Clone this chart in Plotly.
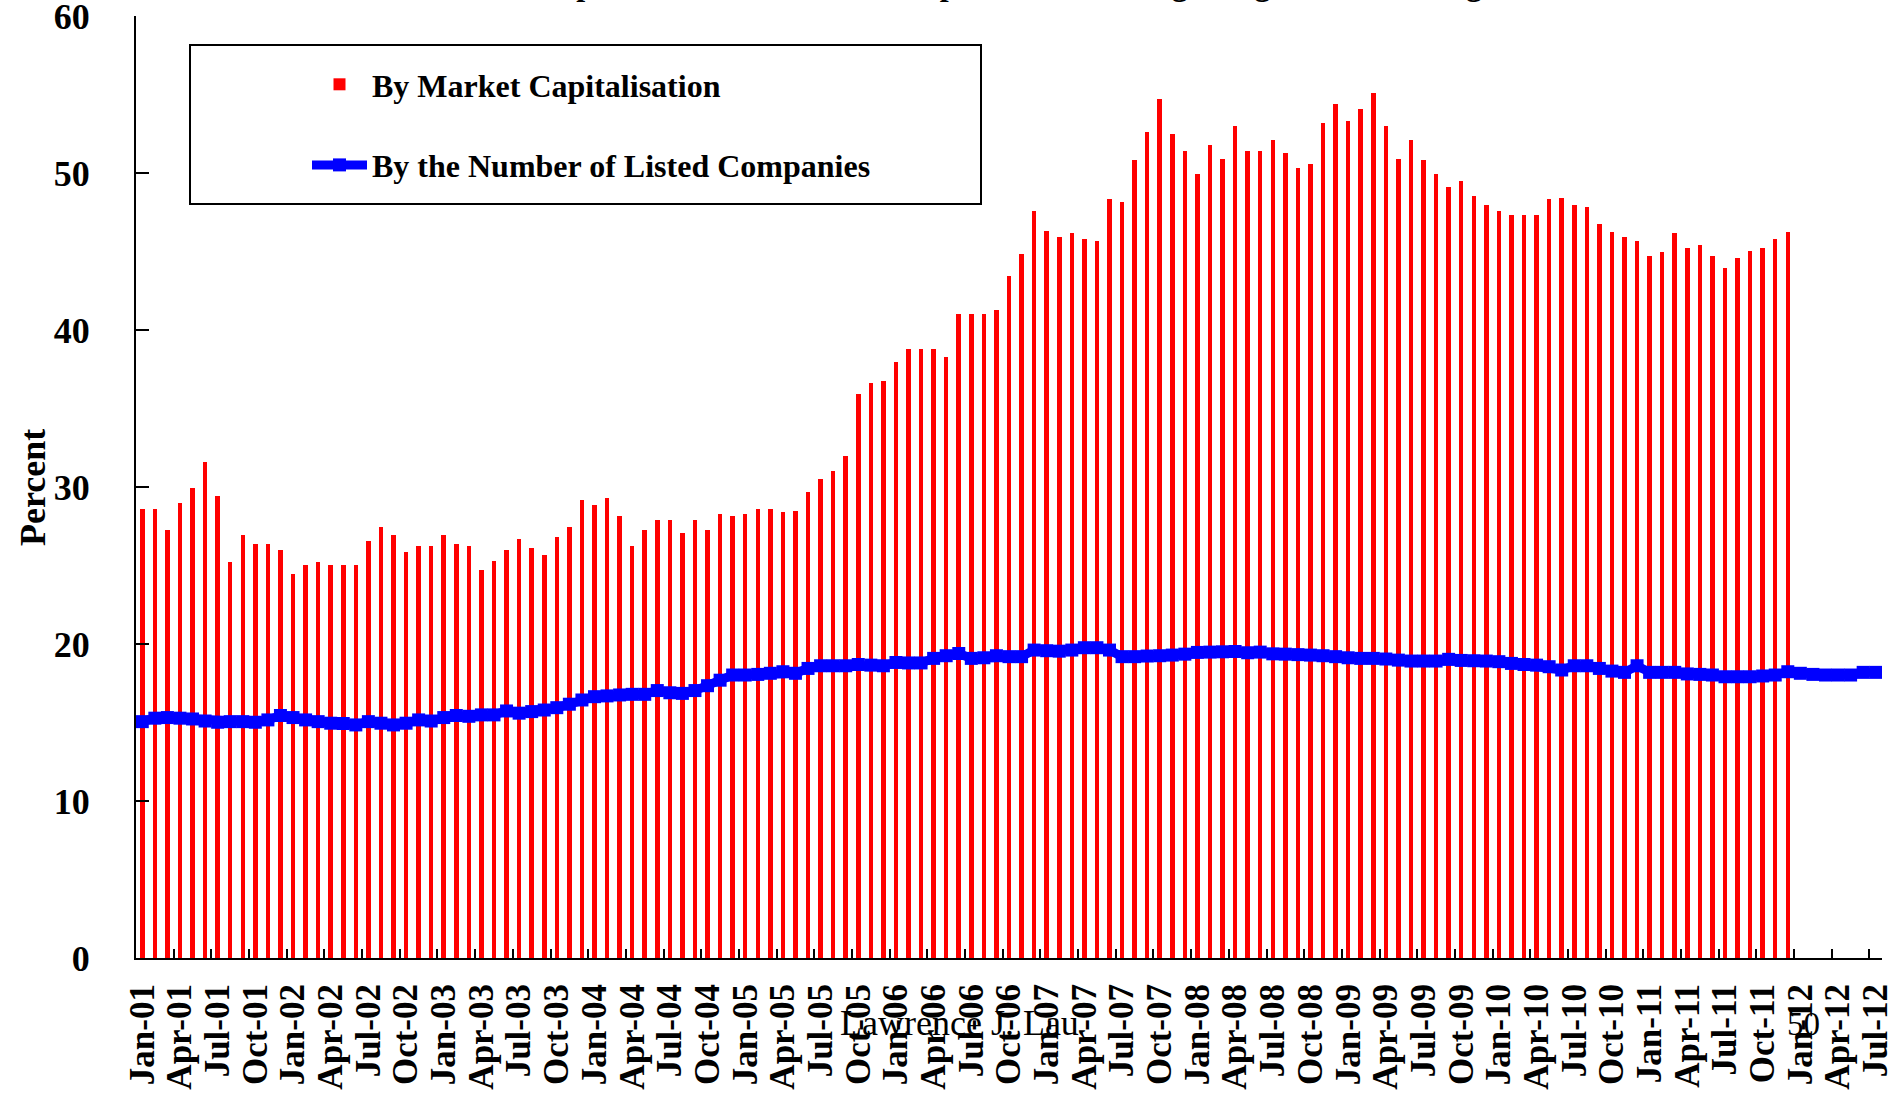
import plotly.graph_objects as go

# ---------------- data ----------------
months = ["Jan", "Feb", "Mar", "Apr", "May", "Jun", "Jul", "Aug", "Sep", "Oct", "Nov", "Dec"]
years = ["01", "02", "03", "04", "05", "06", "07", "08", "09", "10", "11", "12"]
categories = [f"{m}-{y}" for y in years for m in months][:139]  # Jan-01 .. Jul-12

market_cap_share = [
    28.62, 28.62, 27.30, 29.00, 29.94, 31.60, 29.45, 25.20, 26.97, 26.40, 26.40, 26.00,
    24.47, 25.06, 25.20, 25.06, 25.06, 25.06, 26.60, 27.44, 26.97, 25.90, 26.25, 26.25,
    26.97, 26.38, 26.25, 24.70, 25.30, 26.00, 26.70, 26.10, 25.66, 26.84, 27.44, 29.20,
    28.86, 29.34, 28.16, 26.25, 27.30, 27.90, 27.90, 27.08, 27.90, 27.30, 28.26, 28.16,
    28.26, 28.62, 28.62, 28.40, 28.50, 29.70, 30.53, 31.00, 31.97, 35.95, 36.65, 36.77,
    37.96, 38.79, 38.79, 38.79, 38.30, 41.06, 41.06, 41.06, 41.30, 43.44, 44.88, 47.62,
    46.30, 45.95, 46.20, 45.84, 45.70, 48.33, 48.20, 50.83, 52.62, 54.76, 52.50, 51.42,
    49.98, 51.78, 50.93, 52.98, 51.42, 51.42, 52.15, 51.30, 50.34, 50.60, 53.23, 54.42,
    53.36, 54.08, 55.14, 52.98, 50.93, 52.15, 50.83, 49.98, 49.15, 49.51, 48.56, 47.96,
    47.60, 47.36, 47.36, 47.36, 48.33, 48.43, 47.96, 47.83, 46.77, 46.28, 45.92, 45.69,
    44.73, 44.96, 46.17, 45.22, 45.45, 44.73, 43.99, 44.60, 45.07, 45.22, 45.84, 46.28,
]

listed_companies_share = [
    15.06, 15.28, 15.32, 15.28, 15.23, 15.10, 15.02, 15.06, 15.06, 15.02, 15.17, 15.45,
    15.32, 15.17, 15.06, 14.96, 14.94, 14.85, 15.06, 14.96, 14.85, 14.96, 15.17, 15.10,
    15.32, 15.45, 15.40, 15.49, 15.49, 15.74, 15.60, 15.70, 15.80, 15.95, 16.17, 16.44,
    16.65, 16.70, 16.76, 16.80, 16.80, 17.04, 16.90, 16.86, 17.04, 17.35, 17.70, 18.03,
    18.03, 18.07, 18.14, 18.24, 18.14, 18.45, 18.62, 18.62, 18.62, 18.70, 18.66, 18.62,
    18.83, 18.80, 18.80, 19.09, 19.26, 19.40, 19.09, 19.13, 19.26, 19.20, 19.20, 19.62,
    19.58, 19.55, 19.62, 19.77, 19.77, 19.62, 19.20, 19.20, 19.24, 19.26, 19.30, 19.36,
    19.47, 19.49, 19.51, 19.53, 19.45, 19.49, 19.38, 19.36, 19.33, 19.30, 19.26, 19.20,
    19.13, 19.09, 19.09, 19.05, 18.98, 18.92, 18.92, 18.92, 19.03, 18.96, 18.94, 18.92,
    18.88, 18.77, 18.70, 18.66, 18.56, 18.35, 18.62, 18.62, 18.45, 18.28, 18.20, 18.62,
    18.20, 18.20, 18.20, 18.10, 18.07, 18.03, 17.92, 17.92, 17.92, 17.97, 18.03, 18.24,
    18.14, 18.07, 18.03, 18.03, 18.03, 18.20, 18.20,
]

y_ticks = [0, 10, 20, 30, 40, 50, 60]

title_text = "Proportion of Mainland Enterprises in the Hong Kong Stock Exchange"
bar_name = "By Market Capitalisation"
line_name = "By the Number of Listed Companies"

# ---------------- geometry (page pixels) ----------------
PAGE_W, PAGE_H = 1897, 1097
W, H = PAGE_W, PAGE_H
PLOT_L, PLOT_R, PLOT_T, PLOT_B = 136, 1882, 16, 958   # plot area in page pixels
ML, MT = PLOT_L, PLOT_T
MR = PAGE_W - PLOT_R
MB = PAGE_H - PLOT_B
plot_h = PLOT_B - PLOT_T
plot_w = PLOT_R - PLOT_L

SERIF = "Liberation Serif"


def py(p):
    return (PLOT_B - p) / plot_h


def px(p):
    return (p - PLOT_L) / plot_w


fig = go.Figure()

fig.add_trace(go.Bar(
    x=categories[:len(market_cap_share)],
    y=market_cap_share,
    name=bar_name,
    marker=dict(color="#FF0000", line=dict(width=0)),
    width=0.36,
    legendgroup="a",
))

fig.add_trace(go.Scatter(
    x=categories[:len(listed_companies_share)],
    y=listed_companies_share,
    name=line_name,
    mode="lines+markers",
    line=dict(color="#0000FF", width=9),
    marker=dict(symbol="square", size=13, color="#0000FF"),
    legendgroup="b",
))

fig.update_layout(
    width=W,
    height=H,
    margin=dict(l=ML, r=MR, t=MT, b=MB, pad=0, autoexpand=False),
    paper_bgcolor="white",
    plot_bgcolor="white",
    showlegend=True,
    bargap=0,
    legend=dict(
        x=px(307),
        y=py(57),
        xanchor="left",
        yanchor="top",
        bgcolor="rgba(0,0,0,0)",
        borderwidth=0,
        font=dict(family=SERIF, size=32, color="black", weight="bold"),
        itemwidth=55,
        tracegroupgap=36,
        traceorder="grouped",
    ),
    xaxis=dict(
        type="category",
        categoryorder="array",
        categoryarray=categories,
        range=[-0.5, len(categories) - 0.5],
        tickmode="linear",
        tick0=0,
        dtick=3,
        tickson="boundaries",
        ticks="inside",
        ticklen=9,
        tickwidth=2,
        tickcolor="black",
        tickangle=-90,
        ticklabelstandoff=10,
        ticklabeloverflow="allow",
        tickfont=dict(family=SERIF, size=35, color="black", weight="bold"),
        showline=True,
        linecolor="black",
        linewidth=2,
        showgrid=False,
        zeroline=False,
        automargin=False,
    ),
    yaxis=dict(
        range=[0, 60.02],
        tickmode="array",
        tickvals=y_ticks,
        ticktext=[str(v) for v in y_ticks],
        ticks="inside",
        ticklen=13,
        tickwidth=2,
        tickcolor="black",
        ticklabelstandoff=37,
        ticklabeloverflow="allow",
        tickfont=dict(family=SERIF, size=36, color="black", weight="bold"),
        showline=True,
        linecolor="black",
        linewidth=2,
        showgrid=False,
        zeroline=False,
        automargin=False,
    ),
    shapes=[
        dict(
            type="rect", xref="paper", yref="paper",
            x0=px(190), x1=px(981),
            y0=py(204), y1=py(45),
            line=dict(color="black", width=2),
            fillcolor="rgba(0,0,0,0)",
            layer="above",
        )
    ],
    annotations=[
        dict(
            text=title_text, xref="paper", yref="paper",
            x=px(1011), y=py(4),
            xanchor="center", yanchor="bottom", showarrow=False,
            font=dict(family=SERIF, size=32, color="black", weight="bold"),
        ),
        dict(
            text="Percent", xref="paper", yref="paper",
            x=px(33), y=py(488),
            xanchor="center", yanchor="middle", textangle=-90, showarrow=False,
            font=dict(family=SERIF, size=36, color="black", weight="bold"),
        ),
        dict(
            text="Lawrence J. Lau", xref="paper", yref="paper",
            x=px(959), y=py(1023),
            xanchor="center", yanchor="middle", showarrow=False,
            font=dict(family=SERIF, size=36, color="black"),
        ),
        dict(
            text="50", xref="paper", yref="paper",
            x=px(1803), y=py(1024),
            xanchor="center", yanchor="middle", showarrow=False,
            font=dict(family=SERIF, size=33, color="black"),
        ),
    ],
)

fig.write_html(
    "out.html",
    config={"displayModeBar": False},
    post_script="document.body.style.margin='0';document.body.style.overflow='hidden';",
)
